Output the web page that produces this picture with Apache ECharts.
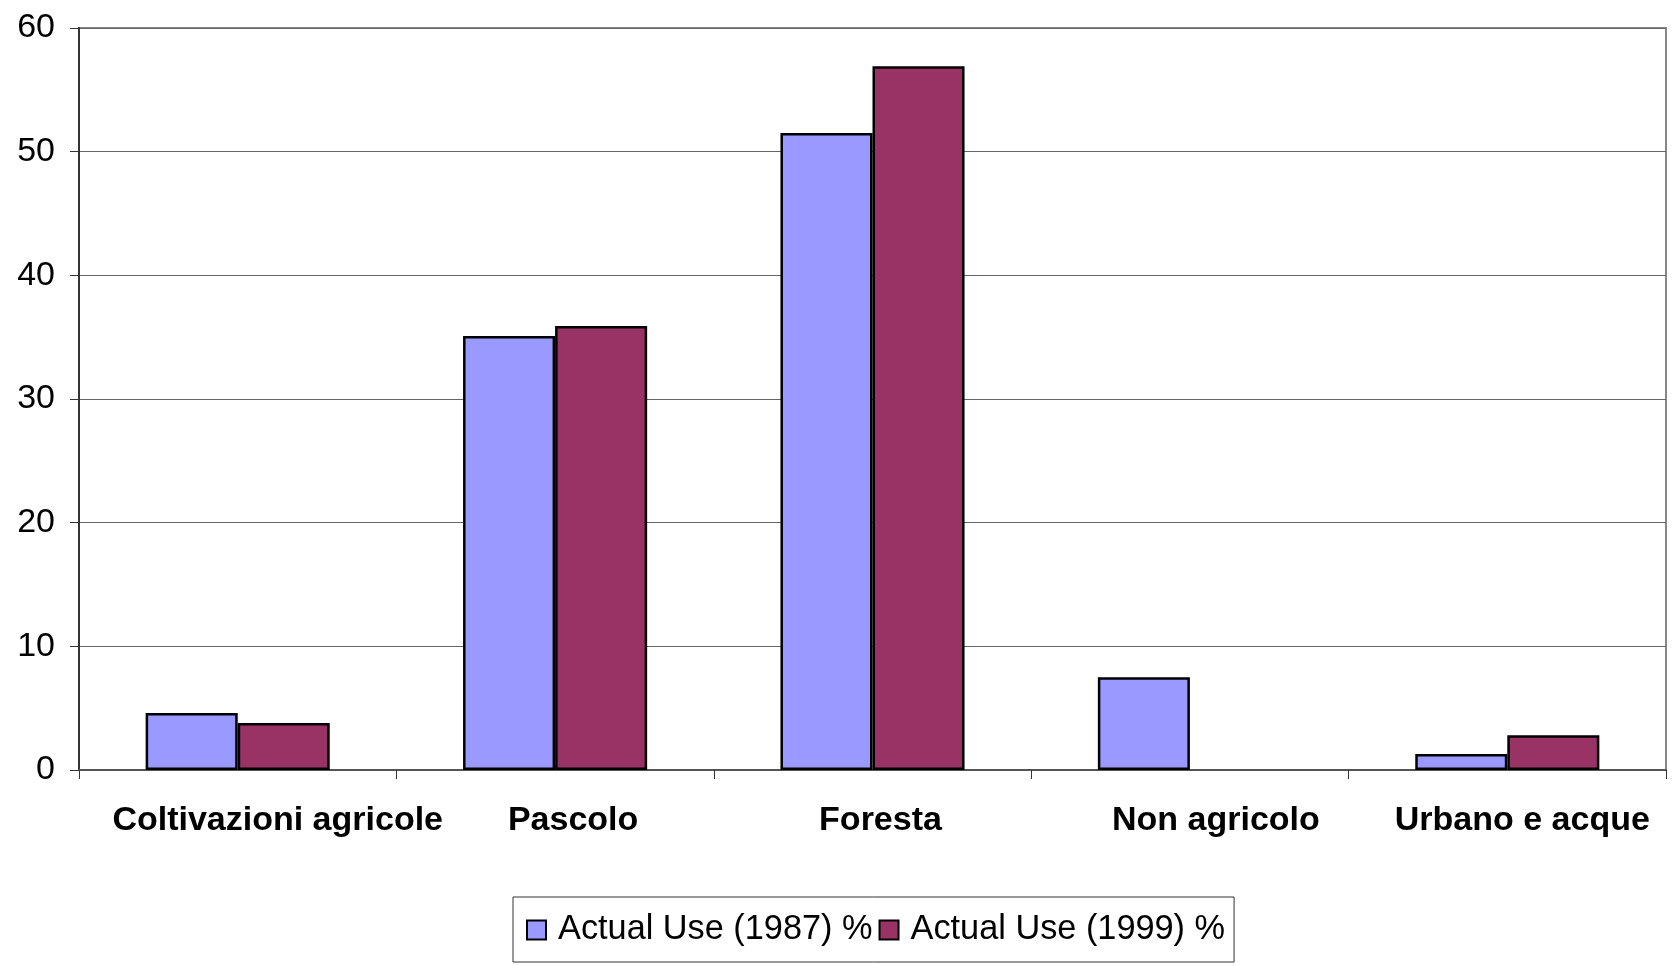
<!DOCTYPE html>
<html>
<head>
<meta charset="utf-8">
<script src="https://cdn.jsdelivr.net/npm/echarts@6/dist/echarts.min.js"></script>
<style>
html,body{margin:0;padding:0;background:#fff;}
#chart{width:1672px;height:966px;}
</style>
</head>
<body>
<div id="chart"></div>
<script>
const categories = ['Coltivazioni agricole', 'Pascolo', 'Foresta', 'Non agricolo', 'Urbano e acque'];
const seriesNames = ['Actual Use (1987) %', 'Actual Use (1999) %'];
const use1987 = [4.6, 35.1, 51.5, 7.5, 1.3];
const use1999 = [3.8, 35.9, 56.9, null, 2.8];
const yTicks = { min: 0, max: 60, interval: 10 };

// label shift (px) to mimic the original's off-centre category labels (style only)
const labelShift = [80, 36, 16, 52, 30];

const chart = echarts.init(document.getElementById('chart'), null, { renderer: 'canvas' });
const font = '"Liberation Sans", Arial, sans-serif';
const rich = {};
labelShift.forEach((s, i) => {
  rich['c' + i] = { fontSize: 34, fontWeight: 'bold', color: '#000', fontFamily: font, padding: [0, 0, 0, s] };
});
chart.setOption({
  animation: false,
  backgroundColor: '#ffffff',
  textStyle: { fontFamily: font },
  grid: {
    left: 79, right: 6, top: 28, bottom: 196,
    show: true, borderColor: '#888888', borderWidth: 2, backgroundColor: 'transparent'
  },
  legend: {
    left: 513, top: 897,
    orient: 'horizontal',
    itemWidth: 19, itemHeight: 19, itemGap: 6,
    padding: [16, 9, 15, 13],
    borderColor: '#333333', borderWidth: 1,
    icon: 'rect',
    formatter: name => '{t|' + name + '}',
    textStyle: {
      fontSize: 34.3, color: '#000', fontFamily: font,
      rich: { t: { fontSize: 34.3, color: '#000', fontFamily: font, padding: [0, 0, 0, 7] } }
    },
    data: seriesNames
  },
  xAxis: {
    type: 'category',
    data: categories,
    boundaryGap: true,
    axisLine: { show: true, lineStyle: { color: '#555555', width: 2 } },
    axisTick: { show: true, length: 9, inside: false, lineStyle: { color: '#333333', width: 1 } },
    axisLabel: {
      fontSize: 34, fontWeight: 'bold', color: '#000', margin: 34, fontFamily: font, interval: 0,
      formatter: (value, index) => '{c' + index + '|' + value + '}',
      rich: rich
    },
    splitLine: { show: false }
  },
  yAxis: {
    type: 'value',
    min: yTicks.min, max: yTicks.max, interval: yTicks.interval,
    axisLine: { show: true, lineStyle: { color: '#333333', width: 2 } },
    axisTick: { show: true, length: 9, inside: false, lineStyle: { color: '#333333', width: 1 } },
    axisLabel: { fontSize: 34, color: '#000', margin: 24, fontFamily: font },
    splitLine: { show: true, lineStyle: { color: '#666666', width: 1.2 } }
  },
  series: [
    {
      name: seriesNames[0], type: 'bar', data: use1987,
      barGap: '0%', barCategoryGap: '42%',
      itemStyle: { color: '#9999FF', borderColor: '#000000', borderWidth: 2.5 }
    },
    {
      name: seriesNames[1], type: 'bar', data: use1999,
      barGap: '0%', barCategoryGap: '42%',
      itemStyle: { color: '#993366', borderColor: '#000000', borderWidth: 2.5 }
    }
  ]
});
</script>
</body>
</html>
